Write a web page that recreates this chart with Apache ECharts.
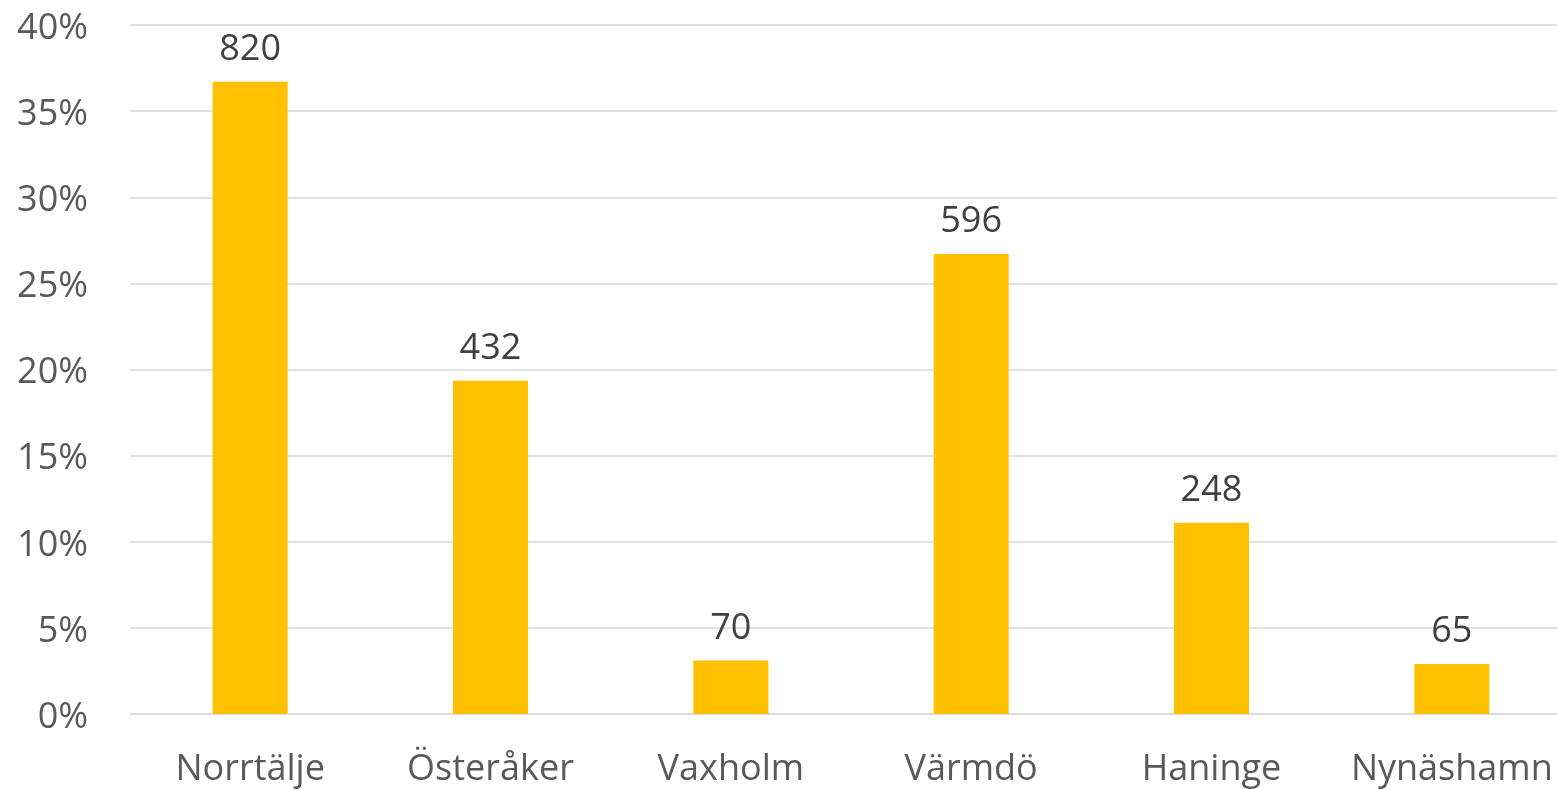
<!DOCTYPE html>
<html>
<head>
<meta charset="utf-8">
<script src="https://cdn.jsdelivr.net/npm/echarts@6/dist/echarts.min.js"></script>
<style>html,body{margin:0;padding:0;background:#fff;}#c{width:1557px;height:790px;}</style>
</head>
<body>
<div id="c"></div>
<script>
const categories = ['Norrtälje', 'Österåker', 'Vaxholm', 'Värmdö', 'Haninge', 'Nynäshamn'];
const shares = [36.7, 19.35, 3.1, 26.7, 11.1, 2.9];
const counts = [820, 432, 70, 596, 248, 65];
const yTicks = [0, 5, 10, 15, 20, 25, 30, 35, 40];

const chart = echarts.init(document.getElementById('c'));
chart.setOption({
  animation: false,
  grid: { left: 130, width: 1442, top: 25, bottom: 76, containLabel: false, outerBoundsMode: 'none' },
  xAxis: {
    type: 'category',
    data: categories,
    axisLine: { lineStyle: { color: '#d9d9d9', width: 1.5 } },
    axisTick: { show: false },
    axisLabel: { interval: 0, color: '#595959', fontFamily: 'Open Sans', fontSize: 36, margin: 38 }
  },
  yAxis: {
    type: 'value',
    min: yTicks[0],
    max: yTicks[yTicks.length - 1],
    interval: 5,
    axisLine: { show: false },
    axisTick: { show: false },
    splitLine: { lineStyle: { color: '#d9d9d9', width: 1.5 } },
    axisLabel: {
      margin: 42,
      formatter: v => '{a|' + v + '%}',
      rich: { a: { color: '#595959', fontFamily: 'Open Sans', fontSize: 36, padding: [7, 0, 0, 0] } }
    }
  },
  series: [{
    type: 'bar',
    data: shares,
    barWidth: 75,
    itemStyle: { color: '#FFC000' },
    label: {
      show: true,
      position: 'top',
      distance: 14,
      color: '#404040',
      fontFamily: 'Open Sans',
      fontSize: 36,
      formatter: p => String(counts[p.dataIndex])
    }
  }]
});
</script>
</body>
</html>
